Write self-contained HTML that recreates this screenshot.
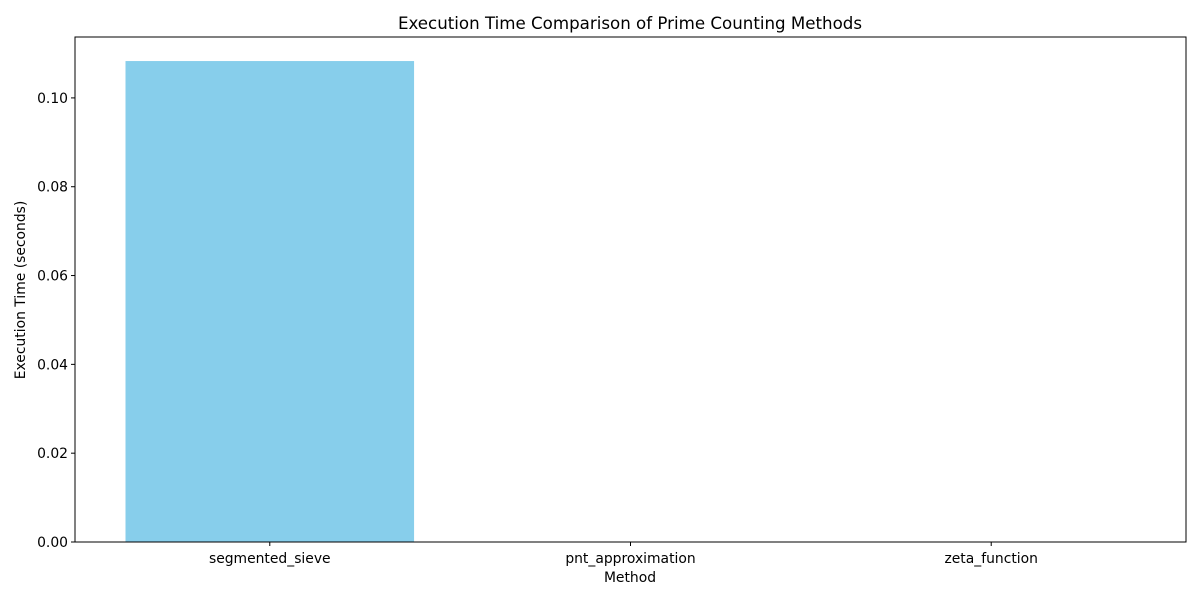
<!DOCTYPE html>
<html><head><meta charset="utf-8"><style>
body{margin:0;background:#fff;font-family:"DejaVu Sans","Liberation Sans",sans-serif;}
svg text{font-family:"DejaVu Sans","Liberation Sans",sans-serif;}
</style></head><body>
<svg id="chart" width="1200" height="600" xmlns="http://www.w3.org/2000/svg">
<rect width="1200" height="600" fill="#fff"/>
<text x="630" y="29" text-anchor="middle" font-size="16.67" fill="#000">Execution Time Comparison of Prime Counting Methods</text>
<text x="630" y="582" text-anchor="middle" font-size="13.9">Method</text>
<text transform="translate(25,290) rotate(-90)" text-anchor="middle" font-size="13.9">Execution Time (seconds)</text>
<g id="marks"></g>
<rect x="75" y="37" width="1111" height="505" fill="none" stroke="#000" stroke-width="1"/>
</svg>
<script>
const categories = ["segmented_sieve","pnt_approximation","zeta_function"];
const times = [0.1083, 0.00001, 0.00001];
const yTicks = [0, 0.02, 0.04, 0.06, 0.08, 0.10];
const yTickLabels = ["0.00","0.02","0.04","0.06","0.08","0.10"];

const L=75,R=1186,T=37,B=542;
const ymax=Math.max(...times)*1.05;
const xmin=-0.4-0.05*(categories.length-1+0.8), xmax=categories.length-1+0.4+0.05*(categories.length-1+0.8);
const xs=v=>L+(v-xmin)/(xmax-xmin)*(R-L);
const ys=v=>B-v/ymax*(B-T);
const NS="http://www.w3.org/2000/svg";
const g=document.getElementById('marks');
function mk(t,a){const e=document.createElementNS(NS,t);for(const k in a)e.setAttribute(k,a[k]);g.appendChild(e);return e;}
categories.forEach((c,i)=>{
  const x0=xs(i-0.4),x1=xs(i+0.4);
  const b=mk('rect',{x:x0,y:ys(times[i]),width:x1-x0,height:B-ys(times[i]),fill:'#87ceeb'});
  
  
  const t=mk('line',{x1:xs(i),x2:xs(i),y1:B,y2:B+4,stroke:'#000'});
  
  
  const l=mk('text',{x:xs(i),y:B+21,'text-anchor':'middle','font-size':13.9});
  l.textContent=c;
  
  
});
yTicks.forEach((v,i)=>{
  const t=mk('line',{x1:L-4,x2:L,y1:ys(v),y2:ys(v),stroke:'#000'});
  
  
  const l=mk('text',{x:L-7,y:ys(v)+5,'text-anchor':'end','font-size':13.9});
  l.textContent=yTickLabels[i];
  
  
});
</script>
</body></html>
